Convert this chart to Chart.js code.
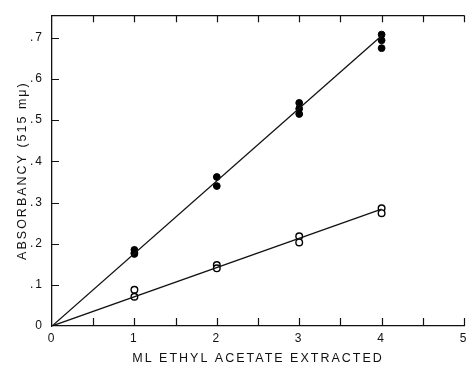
<!DOCTYPE html>
<html>
<head>
<meta charset="utf-8">
<script src="https://cdn.jsdelivr.net/npm/chart.js@4/dist/chart.umd.min.js"></script>
<style>
html,body{margin:0;padding:0;background:#fff;}
#wrap{width:473px;height:369px;}
</style>
</head>
<body>
<div id="wrap"><canvas id="c" width="473" height="369"></canvas></div>
<script>
// Data
const xCategories = [1, 2, 3, 4];
const filledX = [1, 1, 1, 2, 2, 3, 3, 3, 4, 4, 4];
const filledY = [0.185, 0.178, 0.175, 0.362, 0.340, 0.542, 0.528, 0.515, 0.708, 0.694, 0.675];
const openX = [1, 1, 2, 2, 3, 3, 4, 4];
const openY = [0.088, 0.071, 0.148, 0.140, 0.218, 0.203, 0.286, 0.274];
const filledLineX = [0, 4];
const filledLineY = [0, 0.705];
const openLineX = [0, 4];
const openLineY = [0, 0.284];
const xTickValues = [0, 0.5, 1, 1.5, 2, 2.5, 3, 3.5, 4, 4.5, 5];
const yTickValues = [0, 0.1, 0.2, 0.3, 0.4, 0.5, 0.6, 0.7];
const xTitle = 'ML ETHYL ACETATE EXTRACTED';
const yTitle = 'ABSORBANCY (515 mμ)';

const toPts = (xs, ys) => xs.map((x, i) => ({x: x, y: ys[i]}));
const FONT = 'Liberation Sans, Arial, sans-serif';

const tickPlugin = {
  id: 'inwardTicks',
  beforeDraw(chart) {
    chart.ctx.letterSpacing = '2px';
  },
  afterDraw(chart) {
    const ctx = chart.ctx;
    const xs = chart.scales.x, ys = chart.scales.y;
    const a = chart.chartArea;
    ctx.save();
    ctx.letterSpacing = '0px';
    ctx.strokeStyle = '#111';
    ctx.lineWidth = 1.2;
    ctx.beginPath();
    // top border
    ctx.moveTo(a.left, a.top + 0.5);
    ctx.lineTo(xs.getPixelForValue(5), a.top + 0.5);
    xTickValues.forEach(v => {
      const px = Math.round(xs.getPixelForValue(v)) + 0.5;
      if (v > 0) {
        ctx.moveTo(px, a.bottom);
        ctx.lineTo(px, a.bottom - 8);
        ctx.moveTo(px, a.top);
        ctx.lineTo(px, a.top + 7);
      }
    });
    yTickValues.forEach(v => {
      if (v > 0) {
        const py = Math.round(ys.getPixelForValue(v)) + 0.5;
        ctx.moveTo(a.left, py);
        ctx.lineTo(a.left + 7, py);
      }
    });
    ctx.stroke();
    ctx.restore();
  }
};

new Chart(document.getElementById('c'), {
  type: 'scatter',
  data: {
    datasets: [
      {data: toPts(filledLineX, filledLineY), showLine: true, borderColor: '#111', borderWidth: 1.3, pointRadius: 0, fill: false},
      {data: toPts(openLineX, openLineY), showLine: true, borderColor: '#111', borderWidth: 1.3, pointRadius: 0, fill: false},
      {data: toPts(filledX, filledY), pointRadius: 3.4, pointBackgroundColor: '#000', pointBorderColor: '#000', pointBorderWidth: 1},
      {data: toPts(openX, openY), pointRadius: 3.3, pointBackgroundColor: '#fff', pointBorderColor: '#000', pointBorderWidth: 1.4}
    ]
  },
  options: {
    responsive: false,
    animation: false,
    events: [],
    layout: {padding: {left: 15, top: 14, right: 9, bottom: 3}},
    plugins: {legend: {display: false}, tooltip: {enabled: false}},
    scales: {
      x: {
        type: 'linear', min: 0, max: 5,
        afterBuildTicks(s) { s.ticks = xTickValues.map(v => ({value: v})); },
        afterFit(s) { s.height = 40; },
        grid: {display: false, drawTicks: false},
        border: {display: true, color: '#111', width: 1.3},
        ticks: {
          padding: 5, color: '#111', maxRotation: 0, autoSkip: false,
          font: {family: FONT, size: 12},
          callback: v => (Number.isInteger(v) ? String(v) : '')
        },
        title: {display: true, text: xTitle, color: '#111', padding: {top: 6, bottom: 0}, font: {family: FONT, size: 12.5}}
      },
      y: {
        type: 'linear', min: 0, max: 0.755,
        afterBuildTicks(s) { s.ticks = yTickValues.map(v => ({value: v})); },
        afterFit(s) { s.width = 37; },
        grid: {display: false, drawTicks: false},
        border: {display: true, color: '#111', width: 1.3},
        ticks: {
          padding: 8, color: '#111', autoSkip: false,
          font: {family: FONT, size: 12},
          callback: v => (v === 0 ? '0' : '.' + Math.round(v * 10))
        },
        title: {display: true, text: yTitle, color: '#111', padding: {top: 0, bottom: 4}, font: {family: FONT, size: 12.5}}
      }
    }
  },
  plugins: [tickPlugin]
});
</script>
</body>
</html>
